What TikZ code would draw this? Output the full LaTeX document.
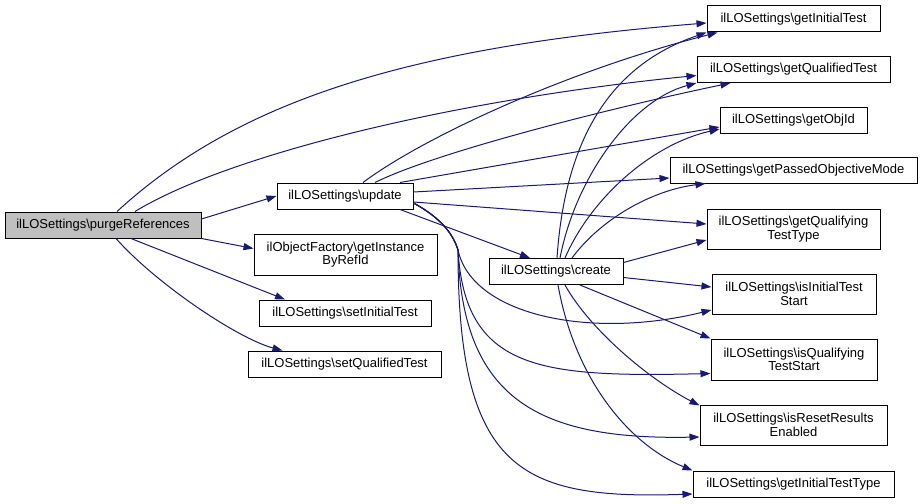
\documentclass[tikz,border=0pt]{standalone}
\usepackage{fontspec}
\setmainfont{Liberation Sans}
\usetikzlibrary{arrows.meta}
\definecolor{edgeblue}{RGB}{25,25,112}
\definecolor{rootgray}{RGB}{191,191,191}
\begin{document}
\begin{tikzpicture}[x=1pt, y=-1pt,
	fn/.style={draw=black, line width=1pt, fill=white, minimum height=26, inner sep=0, align=center, font=\fontsize{13}{13.5}\selectfont},
	root/.style={fn, fill=rootgray},
	call/.style={draw=edgeblue, line width=1pt, -{Triangle[length=10pt, width=7pt]}}]
	\useasboundingbox (0,0) rectangle (923,503);
	\node[root, minimum width=196] (purge) at (103,225) {ilLOSettings\textbackslash{}purgeReferences};
	\node[fn, minimum width=136] (update) at (345,196) {ilLOSettings\textbackslash{}update};
	\node[fn, minimum width=183, minimum height=41] (getinst) at (345.5,254.5) {ilObjectFactory\textbackslash{}getInstance\\ByRefId};
	\node[fn, minimum width=172] (setinit) at (345,313) {ilLOSettings\textbackslash{}setInitialTest};
	\node[fn, minimum width=193] (setqual) at (344.5,364) {ilLOSettings\textbackslash{}setQualifiedTest};
	\node[fn, minimum width=134] (create) at (556,271.5) {ilLOSettings\textbackslash{}create};
	\node[fn, minimum width=173] (getinit) at (793.5,19) {ilLOSettings\textbackslash{}getInitialTest};
	\node[fn, minimum width=193] (getqual) at (793.5,69.5) {ilLOSettings\textbackslash{}getQualifiedTest};
	\node[fn, minimum width=147] (getobj) at (793.5,120) {ilLOSettings\textbackslash{}getObjId};
	\node[fn, minimum width=247] (getpassed) at (793.5,170) {ilLOSettings\textbackslash{}getPassedObjectiveMode};
	\node[fn, minimum width=173, minimum height=40] (getqtype) at (793.5,229) {ilLOSettings\textbackslash{}getQualifying\\TestType};
	\node[fn, minimum width=164, minimum height=40] (isinit) at (794,294) {ilLOSettings\textbackslash{}isInitialTest\\Start};
	\node[fn, minimum width=166, minimum height=41] (isqual) at (794,359.5) {ilLOSettings\textbackslash{}isQualifying\\TestStart};
	\node[fn, minimum width=187, minimum height=40] (isreset) at (793.5,425) {ilLOSettings\textbackslash{}isResetResults\\Enabled};
	\node[fn, minimum width=201] (getinittype) at (793.5,484) {ilLOSettings\textbackslash{}getInitialTestType};
	\coordinate (fork) at (458,250);

	\draw[call] ([shift={(0,-6)}]purge.east) -- (update.west);
	\draw[call] (purge.south east) -- ([shift={(0,-6)}]getinst.west);
	\draw[call] ([shift={(28,0)}]purge.south) -- ([shift={(-60,0)}]setinit.north);
	\draw[call] ([shift={(13,0)}]purge.south) .. controls +(40,45) and +(-45,-12) .. ([shift={(-62,0)}]setqual.north);
	\draw[call] ([shift={(14,0)}]purge.north) .. controls +(120,-110) and +(-300,24) .. ([shift={(0,4)}]getinit.west);
	\draw[call] ([shift={(32,0)}]purge.north) .. controls +(90,-55) and +(-250,25) .. ([shift={(0,6)}]getqual.west);

	\draw[call] ([shift={(18,0)}]update.north) .. controls +(60,-45) and +(-150,38) .. ([shift={(-76,0)}]getinit.south);
	\draw[call] ([shift={(30,0)}]update.north) .. controls +(60,-30) and +(-120,25) .. ([shift={(-63,0)}]getqual.south);
	\draw[call] ([shift={(55,0)}]update.north) -- ([shift={(0,7)}]getobj.west);
	\draw[call] ([shift={(0,-4)}]update.east) -- ([shift={(0,8)}]getpassed.west);
	\draw[call] ([shift={(0,6)}]update.east) -- ([shift={(0,-5)}]getqtype.west);
	\draw[call] ([shift={(55,0)}]update.south) -- ([shift={(-26,0)}]create.north);
	\draw[call] ([shift={(0,7)}]update.east) .. controls +(22,12) and +(-6,-20) .. (fork) .. controls +(14,65) and +(-122,30) .. ([shift={(0,16)}]isinit.west);
	\draw[call] ([shift={(0,7)}]update.east) .. controls +(22,12) and +(-6,-20) .. (fork) .. controls +(7,120) and +(-171,4) .. ([shift={(0,14)}]isqual.west);
	\draw[call] ([shift={(0,7)}]update.east) .. controls +(22,12) and +(-6,-20) .. (fork) .. controls +(4,150) and +(-160,3) .. ([shift={(0,12)}]isreset.west);
	\draw[call] ([shift={(0,7)}]update.east) .. controls +(22,12) and +(-6,-20) .. (fork) .. controls +(0,220) and +(-173,6) .. ([shift={(0,10)}]getinittype.west);

	\draw[call] ([shift={(1,0)}]create.north) .. controls +(8,-118) and +(-97,33) .. (getinit.south west);
	\draw[call] ([shift={(4,0)}]create.north) .. controls +(15,-78) and +(-67,18) .. (getqual.south west);
	\draw[call] ([shift={(9,0)}]create.north) .. controls +(25,-58) and +(-70,16) .. ([shift={(0,9)}]getobj.west);
	\draw[call] ([shift={(16,0)}]create.north) .. controls +(28,-38) and +(-55,7) .. ([shift={(-88,0)}]getpassed.south);
	\draw[call] ([shift={(0,-9)}]create.east) -- ([shift={(0,11)}]getqtype.west);
	\draw[call] ([shift={(0,6)}]create.east) -- ([shift={(0,-7)}]isinit.west);
	\draw[call] ([shift={(24,0)}]create.south) -- (isqual.north west);
	\draw[call] ([shift={(9,0)}]create.south) .. controls +(25,45) and +(-50,-26) .. ([shift={(0,1)}]isreset.north west);
	\draw[call] ([shift={(2,0)}]create.south) .. controls +(17,95) and +(-63,-26) .. (getinittype.north west);
\end{tikzpicture}
\end{document}
